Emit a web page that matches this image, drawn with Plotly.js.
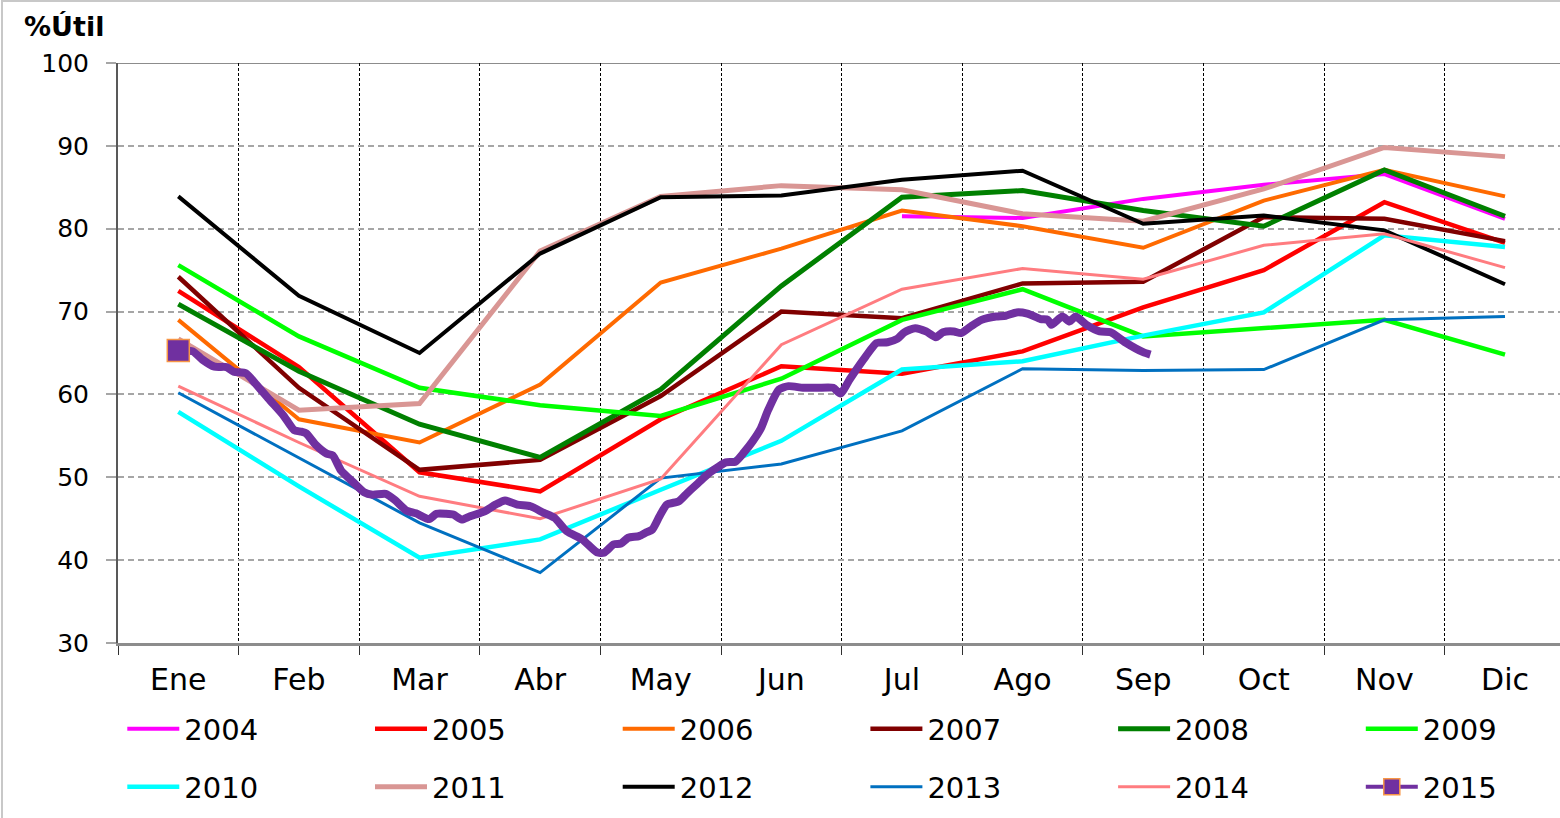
<!DOCTYPE html>
<html>
<head>
<meta charset="utf-8">
<script src="https://cdn.plot.ly/plotly-3.0.1.min.js"></script>
<style>html,body{margin:0;padding:0;background:#fff;}#chart{width:1560px;height:818px;}</style>
</head>
<body>
<div id="chart"></div>
<script>
// ---- data ----
const months = ["Ene","Feb","Mar","Abr","May","Jun","Jul","Ago","Sep","Oct","Nov","Dic"];

const y2004 = [null, null, null, null, null, null, 81.5, 81.3, 83.6, 85.3, 86.6, 81.2];
const y2005 = [72.5, 63.3, 50.6, 48.3, 57.0, 63.4, 62.5, 65.2, 70.5, 75.0, 83.2, 78.3];
const y2006 = [69.0, 57.0, 54.2, 61.2, 73.5, 77.6, 82.2, 80.3, 77.7, 83.4, 87.1, 83.9];
const y2007 = [74.2, 60.8, 50.9, 52.1, 59.8, 70.0, 69.2, 73.4, 73.6, 81.4, 81.2, 78.5];
const y2008 = [70.9, 62.8, 56.4, 52.4, 60.6, 73.1, 83.8, 84.6, 82.2, 80.3, 87.1, 81.5];
const y2009 = [75.6, 67.0, 60.8, 58.7, 57.4, 61.9, 69.0, 72.7, 67.0, 68.0, 69.0, 64.8];
const y2010 = [57.9, 48.9, 40.3, 42.5, 48.5, 54.4, 63.0, 64.0, 67.1, 69.9, 79.2, 77.8];
const y2011 = [66.7, 58.1, 58.9, 77.3, 83.9, 85.2, 84.7, 81.8, 80.9, 84.8, 89.8, 88.7];
const y2012 = [83.9, 71.9, 65.0, 77.0, 83.8, 84.0, 85.9, 87.0, 80.6, 81.6, 79.8, 73.3];
const y2013 = [60.2, 52.4, 44.5, 38.5, 49.9, 51.6, 55.6, 63.1, 62.9, 63.0, 69.0, 69.4];
const y2014 = [61.0, 54.2, 47.7, 45.0, 49.8, 66.0, 72.7, 75.2, 73.9, 78.0, 79.4, 75.3];

// 2015: daily record, position in months since "Ene" (0 = Ene, 1 = Feb, ...)
const t2015 = [0.00,0.12,0.20,0.30,0.40,0.46,0.56,0.64,0.76,0.87,0.96,1.02,1.06,1.14,1.23,1.28,1.35,1.45,1.54,1.61,
  1.72,1.80,1.89,1.97,2.08,2.14,2.22,2.28,2.35,2.42,2.54,2.63,2.71,2.81,2.92,3.03,3.12,3.22,3.35,3.47,
  3.53,3.61,3.67,3.73,3.82,3.88,3.93,3.99,4.05,4.15,4.22,4.31,4.40,4.48,4.54,4.62,4.69,4.76,4.83,4.89,
  4.98,5.06,5.18,5.30,5.43,5.49,5.57,5.70,5.79,5.88,5.96,6.02,6.11,6.20,6.28,6.34,6.43,6.49,6.57,6.66,
  6.78,6.86,6.95,7.04,7.15,7.21,7.24,7.33,7.39,7.44,7.53,7.64,7.73,7.85,8.00,8.06];
const v2015 = [65.3,65.2,64.2,63.35,63.3,62.75,62.55,61.3,59.3,57.5,55.7,55.5,55.3,53.9,52.85,52.65,50.8,49.4,48.2,47.9,
  48.0,47.2,46.0,45.65,44.95,45.6,45.6,45.5,44.9,45.3,45.9,46.7,47.2,46.7,46.5,45.7,45.1,43.5,42.5,40.95,
  40.9,41.9,42.0,42.7,42.9,43.35,43.7,45.3,46.7,47.1,48.1,49.3,50.5,51.3,51.8,51.9,53.0,54.3,55.9,58.1,
  60.6,61.0,60.8,60.8,60.8,60.1,61.9,64.6,66.2,66.3,66.7,67.5,68.0,67.6,66.9,67.5,67.6,67.4,68.2,69.0,
  69.4,69.5,69.9,69.75,69.1,69.0,68.4,69.4,68.8,69.4,68.4,67.6,67.5,66.3,65.1,64.8];

const yAxisTicks = [30, 40, 50, 60, 70, 80, 90, 100];

// ---- styling ----
// legend: row 1 left half, legend3: row 1 right half, legend2: row 2 left half, legend4: row 2 right half
const series = [
  {name: "2004", y: y2004, color: "#FF00FF", width: 4,   legend: "legend"},
  {name: "2005", y: y2005, color: "#FF0000", width: 4.5, legend: "legend"},
  {name: "2006", y: y2006, color: "#FF6A00", width: 4,   legend: "legend"},
  {name: "2007", y: y2007, color: "#800000", width: 4.5, legend: "legend3"},
  {name: "2008", y: y2008, color: "#008000", width: 5,   legend: "legend3"},
  {name: "2009", y: y2009, color: "#00FF00", width: 4.5, legend: "legend3"},
  {name: "2010", y: y2010, color: "#00FFFF", width: 4.5, legend: "legend2"},
  {name: "2011", y: y2011, color: "#D99694", width: 5,   legend: "legend2"},
  {name: "2012", y: y2012, color: "#000000", width: 4,   legend: "legend2"},
  {name: "2013", y: y2013, color: "#0070C0", width: 3,   legend: "legend4"},
  {name: "2014", y: y2014, color: "#FF7C80", width: 3,   legend: "legend4"}
];

const traces = series.map(s => ({
  type: "scatter", mode: "lines", name: s.name, x: months, y: s.y,
  line: {color: s.color, width: s.width}, legend: s.legend, connectgaps: false,
  hoverinfo: "x+y+name"
}));

const purple = "#7030A0";
traces.push({
  type: "scatter", mode: "lines", x: t2015, y: v2015, xaxis: "x2", yaxis: "y",
  line: {color: purple, width: 8, shape: "spline", smoothing: 0.6},
  name: "2015", legend: "legend4", showlegend: false
});
traces.push({
  type: "scatter", mode: "lines+markers", x: [t2015[0]], y: [v2015[0]], xaxis: "x2", yaxis: "y",
  line: {color: purple, width: 4},
  marker: {symbol: "square", size: 22, color: purple, line: {color: "#F79646", width: 1.5}},
  name: "2015", legend: "legend4"
});

const xr = [-0.5, 11.456];
const FONT = "DejaVu Sans, Liberation Sans, Arial, sans-serif";
const LFONT = {family: FONT, size: 29, color: "#000"};

const PLOT_L = 118, PLOT_W = 1442, PLOT_B = 643, PLOT_H = 580;
const px2x = p => (p - PLOT_L) / PLOT_W;
const px2y = p => (PLOT_B - p) / PLOT_H;

const legendCommon = {
  orientation: "h", xanchor: "left", yanchor: "middle", traceorder: "normal",
  entrywidth: 180.7, entrywidthmode: "pixels", itemwidth: 52,
  font: LFONT, bgcolor: "rgba(0,0,0,0)", borderwidth: 0, itemclick: false, itemdoubleclick: false
};

const layout = {
  width: 1560, height: 818,
  margin: {l: PLOT_L, r: 1560 - PLOT_L - PLOT_W, t: 63, b: 818 - PLOT_B, pad: 0, autoexpand: false},
  paper_bgcolor: "#fff", plot_bgcolor: "#fff",
  showlegend: true,
  title: {
    text: "<b>%Útil</b>", font: {family: FONT, size: 27, color: "#000"},
    xref: "container", yref: "container", x: 24/1560, xanchor: "left", y: 1 - 27/818, yanchor: "middle"
  },
  xaxis: {
    type: "category", categoryorder: "array", categoryarray: months, range: xr,
    tickson: "boundaries", ticks: "outside", ticklen: 9, tickwidth: 1.2, tickcolor: "#303030",
    showgrid: true, gridcolor: "#000", gridwidth: 1, griddash: "3px,2px",
    showline: true, linecolor: "#8C8C8C", linewidth: 3,
    tickfont: {family: FONT, size: 30, color: "#000"}, ticklabelstandoff: 8,
    zeroline: false, fixedrange: true, automargin: false
  },
  xaxis2: {
    overlaying: "x", anchor: "y", type: "linear", range: xr, visible: false, fixedrange: true
  },
  yaxis: {
    range: [30, 100], tickmode: "array", tickvals: yAxisTicks,
    ticks: "outside", ticklen: 10, tickwidth: 2, tickcolor: "#A6A6A6",
    showgrid: true, gridcolor: "#A6A6A6", gridwidth: 2, griddash: "6px,4px",
    showline: true, linecolor: "#595959", linewidth: 2,
    tickfont: {family: FONT, size: 25, color: "#000"}, ticklabelstandoff: 12,
    zeroline: false, fixedrange: true, automargin: false
  },
  legend:  Object.assign({}, legendCommon, {x: px2x(122.3), y: px2y(729)}),
  legend3: Object.assign({}, legendCommon, {x: px2x(122.3 + 3 * 247.7), y: px2y(729)}),
  legend2: Object.assign({}, legendCommon, {x: px2x(122.3), y: px2y(787)}),
  legend4: Object.assign({}, legendCommon, {x: px2x(122.3 + 3 * 247.7), y: px2y(787)}),
  shapes: [
    {type: "line", xref: "paper", yref: "y", x0: 0, x1: 1, y0: 100, y1: 100,
     line: {color: "#8C8C8C", width: 2}, layer: "below"},
    {type: "line", xref: "paper", yref: "paper", x0: px2x(2), x1: px2x(2), y0: px2y(818), y1: px2y(0),
     line: {color: "#C8C8C8", width: 2}, layer: "below"},
    {type: "line", xref: "paper", yref: "paper", x0: px2x(2), x1: px2x(1560), y0: px2y(1), y1: px2y(1),
     line: {color: "#C8C8C8", width: 2}, layer: "below"}
  ]
};

Plotly.newPlot("chart", traces, layout, {displayModeBar: false, staticPlot: false, responsive: false});
</script>
</body>
</html>
